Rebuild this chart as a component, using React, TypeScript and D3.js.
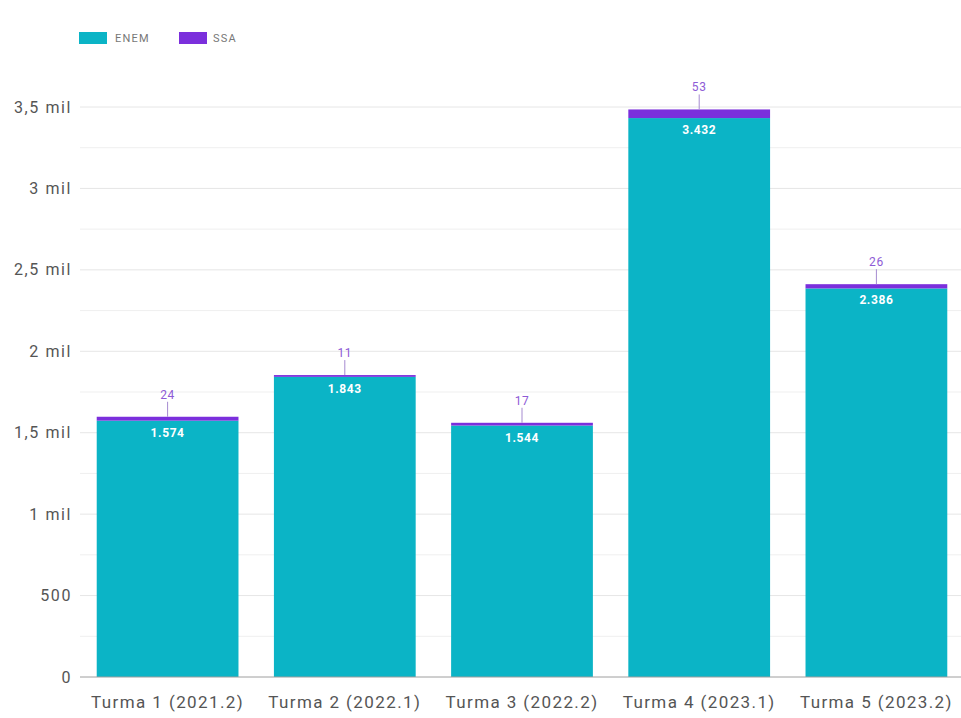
import * as d3 from "d3";

const categories = [
  "Turma 1 (2021.2)",
  "Turma 2 (2022.1)",
  "Turma 3 (2022.2)",
  "Turma 4 (2023.1)",
  "Turma 5 (2023.2)",
];
const enem = [1574, 1843, 1544, 3432, 2386];
const ssa = [24, 11, 17, 53, 26];
const yTicks = [0, 500, 1000, 1500, 2000, 2500, 3000, 3500];
const yTickLabels = ["0", "500", "1 mil", "1,5 mil", "2 mil", "2,5 mil", "3 mil", "3,5 mil"];

const W = 961;
const H = 718;
const ENEM_COLOR = "#0bb4c6";
const SSA_COLOR = "#7b2fdc";
const FONT = "Roboto, sans-serif";

export default function App() {
  const x = d3.scaleBand(categories, [79, 965]).paddingInner(0.2).paddingOuter(0.1);
  const y = d3.scaleLinear([0, 3500], [677, 107]);
  const fmt = (v: number) => d3.format(",")(v).replace(/,/g, ".");
  const minor = d3.range(250, 3500, 500);

  return (
    <svg
      width={W}
      height={H}
      style={{ position: "absolute", left: 0, top: 0, background: "#fff" }}
      fontFamily={FONT}
    >
      {/* legend */}
      <rect x={79} y={32} width={28} height={12} fill={ENEM_COLOR} />
      <text x={115} y={42} fontSize={11} letterSpacing={1.2} fill="#777">ENEM</text>
      <rect x={179} y={32} width={28} height={12} fill={SSA_COLOR} />
      <text x={213} y={42} fontSize={11} letterSpacing={1.2} fill="#777">SSA</text>

      {/* grid */}
      {minor.map((v) => (
        <line key={"m" + v} x1={80} x2={W} y1={y(v)} y2={y(v)} stroke="#efefef" />
      ))}
      {yTicks.map((v, i) => (
        <g key={v}>
          {v > 0 && <line x1={80} x2={W} y1={y(v)} y2={y(v)} stroke="#e6e6e6" />}
          <text x={72} y={y(v)} dy="0.35em" textAnchor="end" fontSize={16} letterSpacing={1.6} fill="#555">
            {yTickLabels[i]}
          </text>
        </g>
      ))}

      {/* bars */}
      {categories.map((c, i) => {
        const bx = x(c)!;
        const bw = x.bandwidth();
        const cx = bx + bw / 2;
        const top = y(enem[i] + ssa[i]);
        return (
          <g key={c}>
            <rect x={bx} y={y(enem[i])} width={bw} height={y(0) - y(enem[i])} fill={ENEM_COLOR} />
            <rect x={bx} y={top} width={bw} height={y(enem[i]) - top} fill={SSA_COLOR} />
            <text x={cx} y={y(enem[i]) + 16} textAnchor="middle" fontSize={12} letterSpacing={0.6} fontWeight="bold" fill="#fff">
              {fmt(enem[i])}
            </text>
            <line x1={cx} x2={cx} y1={top - 15} y2={top} stroke="#a58bd0" />
            <text x={cx} y={top - 18} textAnchor="middle" fontSize={12} letterSpacing={0.6} fill="#8e5bd6">
              {fmt(ssa[i])}
            </text>
            <text x={cx} y={708} textAnchor="middle" fontSize={17} letterSpacing={1.4} fill="#555">
              {c}
            </text>
          </g>
        );
      })}

      {/* zero line */}
      <line x1={80} x2={W} y1={y(0)} y2={y(0)} stroke="#9e9e9e" />
    </svg>
  );
}
